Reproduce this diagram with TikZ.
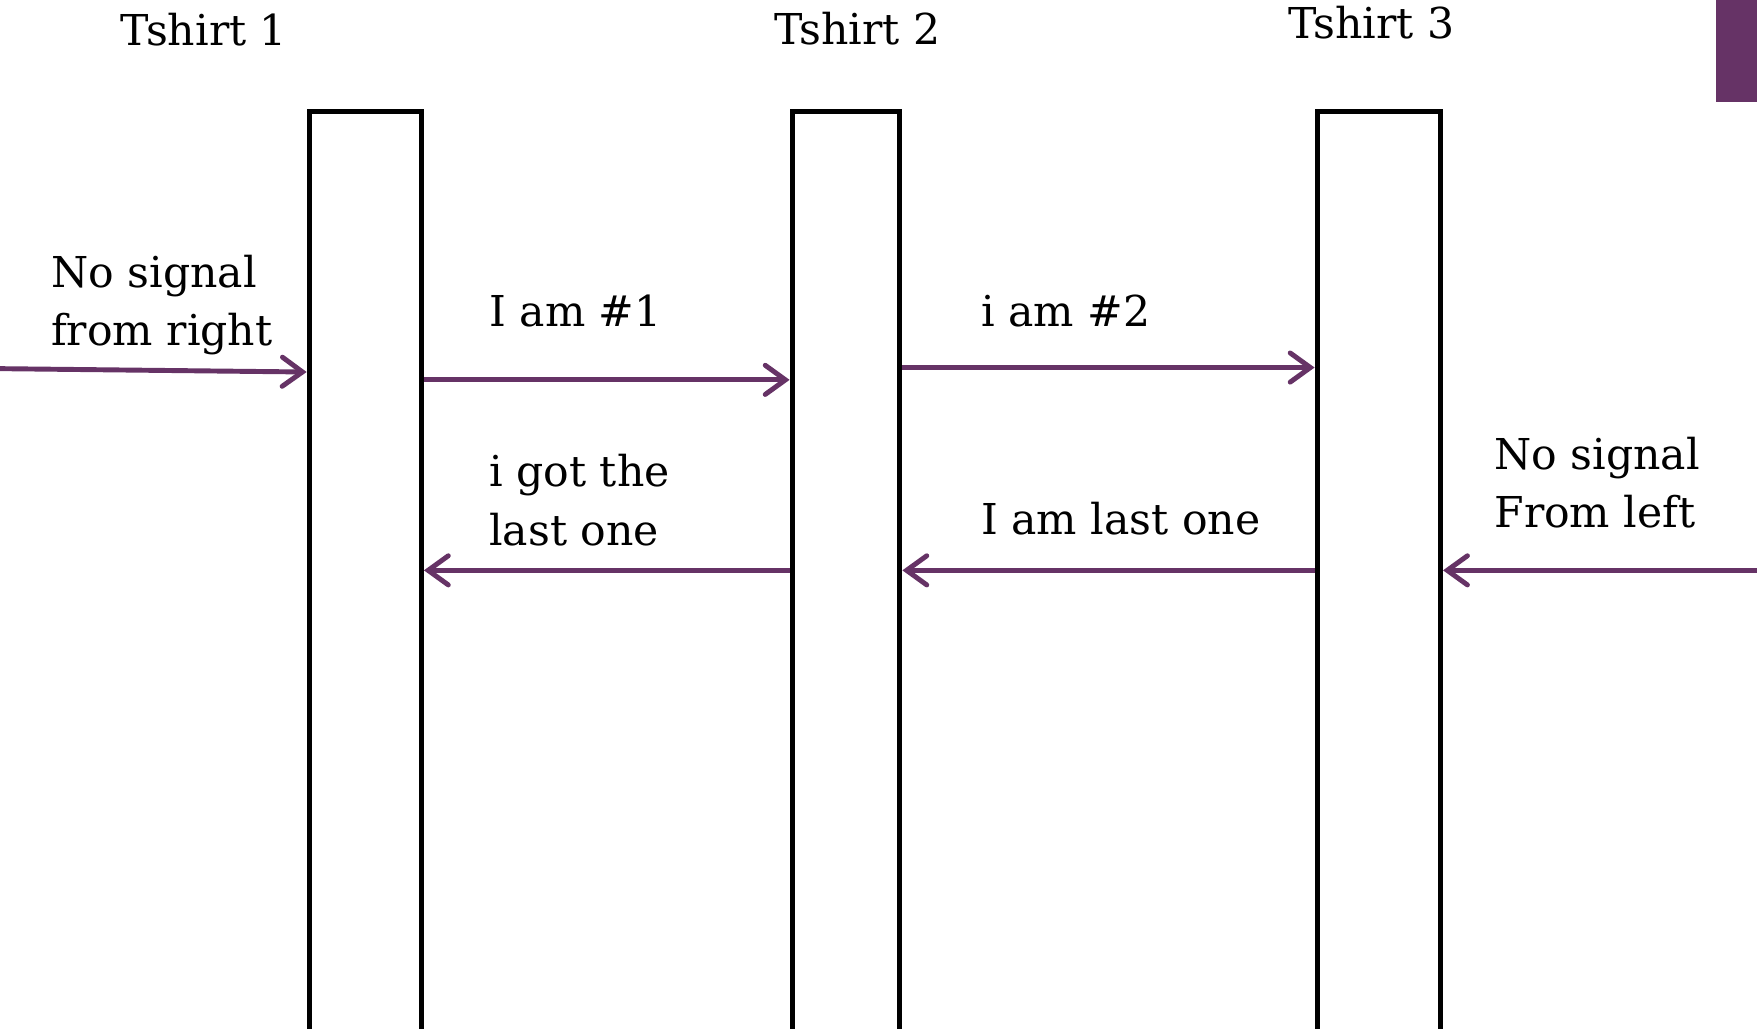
\documentclass[tikz,border=0pt]{standalone}
\usepackage{fontspec}
\setmainfont{DejaVu Serif}
\usepackage{tikz}
\usetikzlibrary{positioning,
				arrows.meta,
				calc}
\definecolor{plum}{RGB}{102,51,102}

\tikzset{
	shirt/.style={draw, line width=1.3pt, minimum height=8.3cm, inner sep=0pt},
	sig/.style={draw=plum, line width=1.25pt, -{Straight Barb[length=1.8mm,width=2.6mm,line cap=round]}},
	lbl/.style={anchor=base west, inner sep=0pt, align=left, font=\fontsize{10.8}{14.8}\selectfont},
	ttl/.style={anchor=base, inner sep=0pt, font=\fontsize{10.8}{12}\selectfont}
}

\begin{document}
\begin{tikzpicture}[x=0.01cm,y=-0.01cm]
	\useasboundingbox (0,0) rectangle (1568,918);
	\clip (0,0) rectangle (1568,918);
	% the three tshirts
	\node[shirt, minimum width=1cm] (tshirt1) at (326,515) {};
	\node[shirt, minimum width=0.96cm] (tshirt2) at (755,515) {};
	\node[shirt, minimum width=1.1cm] (tshirt3) at (1230.5,515) {};
	\node[ttl] (title1) at (182,41) {Tshirt 1};
	\node[ttl] (title2) at (765,40) {Tshirt 2};
	\node[ttl] (title3) at (1224,34) {Tshirt 3};
	\fill[plum] (1531,0) rectangle (1568,90.6);
	% signals
	\coordinate (lfree) at (0,329);
	\coordinate (rfree) at (1568,509);
	\draw[sig] (lfree) -- (tshirt1.west |- 0,332);
	\draw[sig] (tshirt1.east |- 0,339) -- (tshirt2.west |- 0,339);
	\draw[sig] (tshirt2.east |- 0,328) -- (tshirt3.west |- 0,328);
	\draw[sig] (tshirt3.west |- 0,509) -- (tshirt2.east |- 0,509);
	\draw[sig] (tshirt2.west |- 0,509) -- (tshirt1.east |- 0,509);
	\draw[sig] (rfree) -- (tshirt3.east |- 0,509);
	% labels
	\node[lbl, anchor=north west] (nosigl) at (45,227) {No signal\\from right};
	\node[lbl] (msg1) at (436,291) {I am \#1};
	\node[lbl] (msg2) at (875,291) {i am \#2};
	\node[lbl, anchor=north west] (gotlast) at (436,405) {i got the\\last one};
	\node[lbl] (lastone) at (875,477) {I am last one};
	\node[lbl, anchor=north west] (nosigr) at (1333,389) {No signal\\From left};
\end{tikzpicture}
\end{document}
